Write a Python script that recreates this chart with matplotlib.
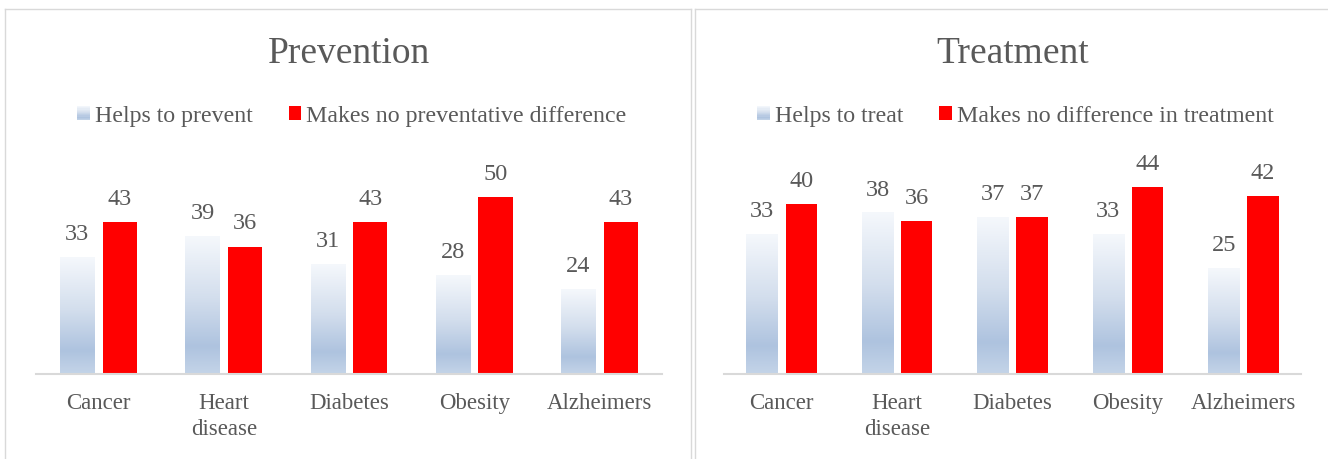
import numpy as np
import matplotlib
matplotlib.use("Agg")
import matplotlib.pyplot as plt
from matplotlib.colors import LinearSegmentedColormap
from matplotlib.patches import Rectangle
from matplotlib.legend_handler import HandlerBase

# data
categories = ["Cancer", "Heart\ndisease", "Diabetes", "Obesity", "Alzheimers"]
prevent_helps = [33, 39, 31, 28, 24]
prevent_nodiff = [43, 36, 43, 50, 43]
treat_helps = [33, 38, 37, 33, 25]
treat_nodiff = [40, 36, 37, 44, 42]

plt.rcParams['font.family'] = ['Liberation Serif', 'DejaVu Serif']
txt_color = "#595959"
grid_color = "#d9d9d9"
red = "#ff0000"

# blue bars go from near white at the top to steel blue near the bottom
blue_cmap = LinearSegmentedColormap.from_list(
    "bluegrad", [(0.0, "#f5f8fc"), (0.45, "#d3deed"), (0.8, "#aec3df"), (1.0, "#c4d4e8")])
grad = np.linspace(0, 1, 256).reshape(-1, 1)


class GradientHandler(HandlerBase):
    # legend square with the same gradient as the bars
    def create_artists(self, legend, orig_handle, xdescent, ydescent, width, height, fontsize, trans):
        arts = []
        n = 12
        for i in range(n):
            c = blue_cmap(1 - (i + 0.5) / n)
            r = Rectangle((-xdescent, -ydescent + height * i / n), width, height / n + 0.3,
                          facecolor=c, edgecolor="none", transform=trans)
            arts.append(r)
        return arts


W, H = 1328, 459
fig = plt.figure(figsize=(W / 100, H / 100), dpi=100)

# panel frames
fig.add_artist(plt.Line2D([4.5 / W, 4.5 / W], [0, 1 - 8.5 / H], color=grid_color, lw=1))
fig.add_artist(plt.Line2D([4.5 / W, 690.5 / W], [1 - 8.5 / H, 1 - 8.5 / H], color=grid_color, lw=1))
fig.add_artist(plt.Line2D([690.5 / W, 690.5 / W], [0, 1 - 8.5 / H], color=grid_color, lw=1))
fig.add_artist(plt.Line2D([694.5 / W, 694.5 / W], [0, 1 - 8.5 / H], color=grid_color, lw=1))
fig.add_artist(plt.Line2D([694.5 / W, 1], [1 - 8.5 / H, 1 - 8.5 / H], color=grid_color, lw=1))

panels = [
    ("Prevention", prevent_helps, prevent_nodiff, "Helps to prevent", "Makes no preventative difference",
     36, 662, 60),
    ("Treatment", treat_helps, treat_nodiff, "Helps to treat", "Makes no difference in treatment",
     724, 1301, 50),
]

x = np.arange(len(categories))
bw = 0.272
off = 0.17

for title, helps, nodiff, lab1, lab2, x0, x1, ymax in panels:
    ax = fig.add_axes([x0 / W, (H - 374) / H, (x1 - x0) / W, 212 / H])

    b1 = ax.bar(x - off, helps, bw, color="none", edgecolor="none", label=lab1)
    b2 = ax.bar(x + off, nodiff, bw, color=red, edgecolor="none", label=lab2)

    # fill each blue bar with its own gradient
    for rect in b1:
        bx = rect.get_x()
        ax.imshow(grad, extent=[bx, bx + rect.get_width(), 0, rect.get_height()],
                  aspect="auto", cmap=blue_cmap, origin="upper", zorder=1)

    for rects in (b1, b2):
        for rect in rects:
            ax.annotate(str(int(rect.get_height())),
                        (rect.get_x() + rect.get_width() / 2, rect.get_height()),
                        xytext=(0, 12.5), textcoords="offset points",
                        ha="center", va="baseline", fontsize=17.5, color=txt_color)

    ax.set_xlim(-0.5, len(categories) - 0.5)
    ax.set_ylim(0, ymax)
    ax.set_xticks(x)
    ax.set_xticklabels(categories, fontsize=16.5, color=txt_color, linespacing=1.3)
    ax.tick_params(axis="x", length=0, pad=14)
    ax.set_yticks([])
    for s in ["top", "left", "right"]:
        ax.spines[s].set_visible(False)
    ax.spines["bottom"].set_color(grid_color)
    ax.spines["bottom"].set_linewidth(1.5)
    ax.patch.set_alpha(0)

    xc = (x0 + x1) / 2 / W
    fig.text(xc, 1 - 63 / H, title, ha="center", va="baseline", fontsize=27, color=txt_color)

    leg = fig.legend([b1, b2], [lab1, lab2], loc="center", bbox_to_anchor=(xc + 3 / W, 1 - 116 / H),
                     ncol=2, frameon=False, fontsize=17.2, handlelength=0.52, handleheight=0.52,
                     handletextpad=0.22, columnspacing=1.5, borderpad=0,
                     handler_map={b1: GradientHandler()})
    for t in leg.get_texts():
        t.set_color(txt_color)

plt.savefig("out.png", dpi=100)
